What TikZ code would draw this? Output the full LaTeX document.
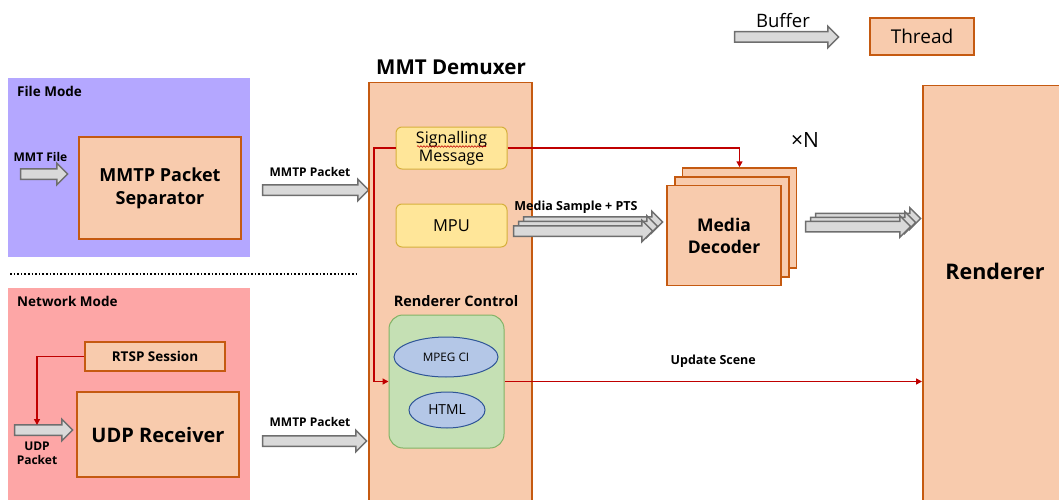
\documentclass[tikz,border=0pt]{standalone}
\usepackage{fontspec}
\setmainfont{Open Sans}
\usetikzlibrary{positioning,shapes.geometric,shapes.arrows,arrows.meta,decorations.pathmorphing}

\definecolor{filebg}{RGB}{180,167,255}
\definecolor{netbg}{RGB}{253,166,166}
\definecolor{blockfill}{RGB}{248,203,173}
\definecolor{blockline}{RGB}{197,90,17}
\definecolor{msgfill}{RGB}{255,230,153}
\definecolor{msgline}{RGB}{214,176,60}
\definecolor{ctrlfill}{RGB}{197,224,180}
\definecolor{ctrlline}{RGB}{130,179,102}
\definecolor{ellfill}{RGB}{180,199,231}
\definecolor{ellline}{RGB}{47,85,151}
\definecolor{bufffill}{RGB}{217,217,217}
\definecolor{buffline}{RGB}{110,110,110}
\definecolor{sigred}{RGB}{192,0,0}

\tikzset{
  mode/.style={draw=none, minimum width=242pt, inner sep=0pt},
  block/.style={draw=blockline, fill=blockfill, line width=1.5pt, align=center, inner sep=0pt, font=\bfseries},
  msg/.style={draw=msgline, fill=msgfill, line width=1pt, rounded corners=6pt, minimum width=111pt, inner sep=0pt, align=center},
  part/.style={ellipse, draw=ellline, fill=ellfill, line width=1pt, inner sep=0pt},
  buffer/.style={single arrow, draw=buffline, fill=bufffill, line width=1.5pt, inner xsep=0pt, inner ysep=4.5pt, single arrow head extend=5.5pt},
  redline/.style={draw=sigred, line width=1.7pt, -{Triangle[length=6pt,width=6pt]}},
  tag/.style={font=\bfseries\fontsize{12}{14}\selectfont, align=center, inner sep=0pt},
}

\begin{document}
\begin{tikzpicture}[x=1pt, y=-1pt]
	\useasboundingbox (0,0) rectangle (1059,500);
	\clip (0,0) rectangle (1059,500);

	% file mode
	\node[mode, fill=filebg, minimum height=179pt] (filemode) at (129,167.5) {};
	\node[tag, font=\bfseries\fontsize{13.5}{15}\selectfont, anchor=west] (filelabel) at (17,91) {File Mode};
	\node[block, minimum width=162pt, minimum height=102pt, font=\bfseries\fontsize{18}{23}\selectfont] (separator) at (160,188) {MMTP Packet\\Separator};
	\node[buffer, minimum height=47pt] (mmtfile) at (41.5,174) {};
	\node[tag] (mmtfilelabel) at (40.5,157) {MMT File};
	\node[buffer, minimum height=106pt] (packet1) at (313,190) {};
	\node[tag] (packet1label) at (310,172) {MMTP Packet};

	\draw[dotted, line width=1.6pt] (10,274) -- (358,274);

	% network mode
	\node[mode, fill=netbg, minimum height=212pt] (netmode) at (129,394) {};
	\node[tag, font=\bfseries\fontsize{13.5}{15}\selectfont, anchor=west] (netlabel) at (17,301) {Network Mode};
	\node[block, minimum width=140pt, minimum height=29pt, font=\bfseries\fontsize{13.5}{16}\selectfont] (rtsp) at (155,356.5) {RTSP Session};
	\node[block, minimum width=162pt, minimum height=85pt, font=\bfseries\fontsize{20}{24}\selectfont] (udp) at (158,434.5) {UDP Receiver};
	\node[buffer, minimum height=58pt] (udppacket) at (41,430) {};
	\node[tag, font=\bfseries\fontsize{12}{14}\selectfont, anchor=north] (udppacketlabel) at (37,442) {UDP\\Packet};
	\node[buffer, minimum height=104pt] (packet2) at (312,441) {};
	\node[tag] (packet2label) at (310,422) {MMTP Packet};

	% demuxer
	\node[block, minimum width=163pt, minimum height=430pt, anchor=north] (demux) at (450.5,82) {};
	\node[font=\bfseries\fontsize{20.5}{24}\selectfont, inner sep=0pt] (demuxlabel) at (451,67) {MMT Demuxer};
	\node[msg, minimum height=42pt, font=\fontsize{16}{18}\selectfont] (sig) at (451.5,148) {Signalling\\Message};
	\draw[sigred, line width=0.6pt, decorate, decoration={snake, amplitude=0.8pt, segment length=3pt}] (417,146.5) -- (486,146.5);
	\node[msg, minimum height=43pt, font=\fontsize{16.5}{18}\selectfont] (mpu) at (451.5,225.5) {MPU};
	\node[font=\bfseries\fontsize{14.5}{17}\selectfont, inner sep=0pt] (ctrllabel) at (456,301) {Renderer Control};
	\node[draw=ctrlline, fill=ctrlfill, line width=1pt, rounded corners=14pt, minimum width=115pt, minimum height=133pt] (ctrl) at (446.5,381.5) {};
	\node[part, minimum width=104pt, minimum height=40pt, font=\fontsize{11.7}{13}\selectfont] (mpegci) at (446,357) {MPEG CI};
	\node[part, minimum width=76pt, minimum height=36pt, font=\fontsize{13.8}{15}\selectfont] (html) at (447,410) {HTML};

	% media samples and decoders
	\foreach \i in {2,1,0}
		\node[buffer, minimum height=139pt] (sample\i) at ({580.5+5*\i},{231-4.5*\i}) {};
	\node[tag, font=\bfseries\fontsize{12.5}{14}\selectfont] (samplelabel) at (576,207) {Media Sample + PTS};
	\foreach \i in {2,1}
		\node[block, minimum width=114pt, minimum height=100pt] (decoder\i) at ({724+7.75*\i},{235.5-8.75*\i}) {};
	\node[block, minimum width=114pt, minimum height=100pt, font=\bfseries\fontsize{17.5}{22}\selectfont] (decoder) at (724,235.5) {Media\\Decoder};
	\node[font=\fontsize{21}{23}\selectfont, inner sep=0pt] (count) at (805,140) {×N};
	\foreach \i in {2,1,0}
		\node[buffer, minimum height=105pt] (out\i) at ({855.5+5*\i},{226.5-4*\i}) {};

	% renderer
	\node[block, minimum width=150pt, minimum height=430pt, anchor=north west] (renderer) at (922,85) {};
	\node[font=\bfseries\fontsize{21.5}{25}\selectfont, inner sep=0pt] (rendererlabel) at (995,271) {Renderer};

	% legend
	\node[buffer, minimum height=104pt] (legbuffer) at (784,37) {};
	\node[font=\fontsize{18.5}{20}\selectfont, inner sep=0pt] (legbufferlabel) at (783,21) {Buffer};
	\node[block, minimum width=104pt, minimum height=37pt, font=\fontsize{19}{21}\selectfont] (legthread) at (922,36.5) {Thread};

	% control signals
	\coordinate (udpin) at (37,425);
	\coordinate (sigturn) at (374,381.5);
	\draw[redline] (rtsp.west) -| (udpin);
	\draw[redline] (sig.west) -| (sigturn) -- (ctrl.west);
	\draw[redline] (sig.east) -| (decoder2.north);
	\draw[redline] (ctrl.east) -- (renderer.west |- ctrl.east)
		node[midway, above=10pt, font=\bfseries\fontsize{12.5}{14}\selectfont, text=black] {Update Scene};
\end{tikzpicture}
\end{document}
